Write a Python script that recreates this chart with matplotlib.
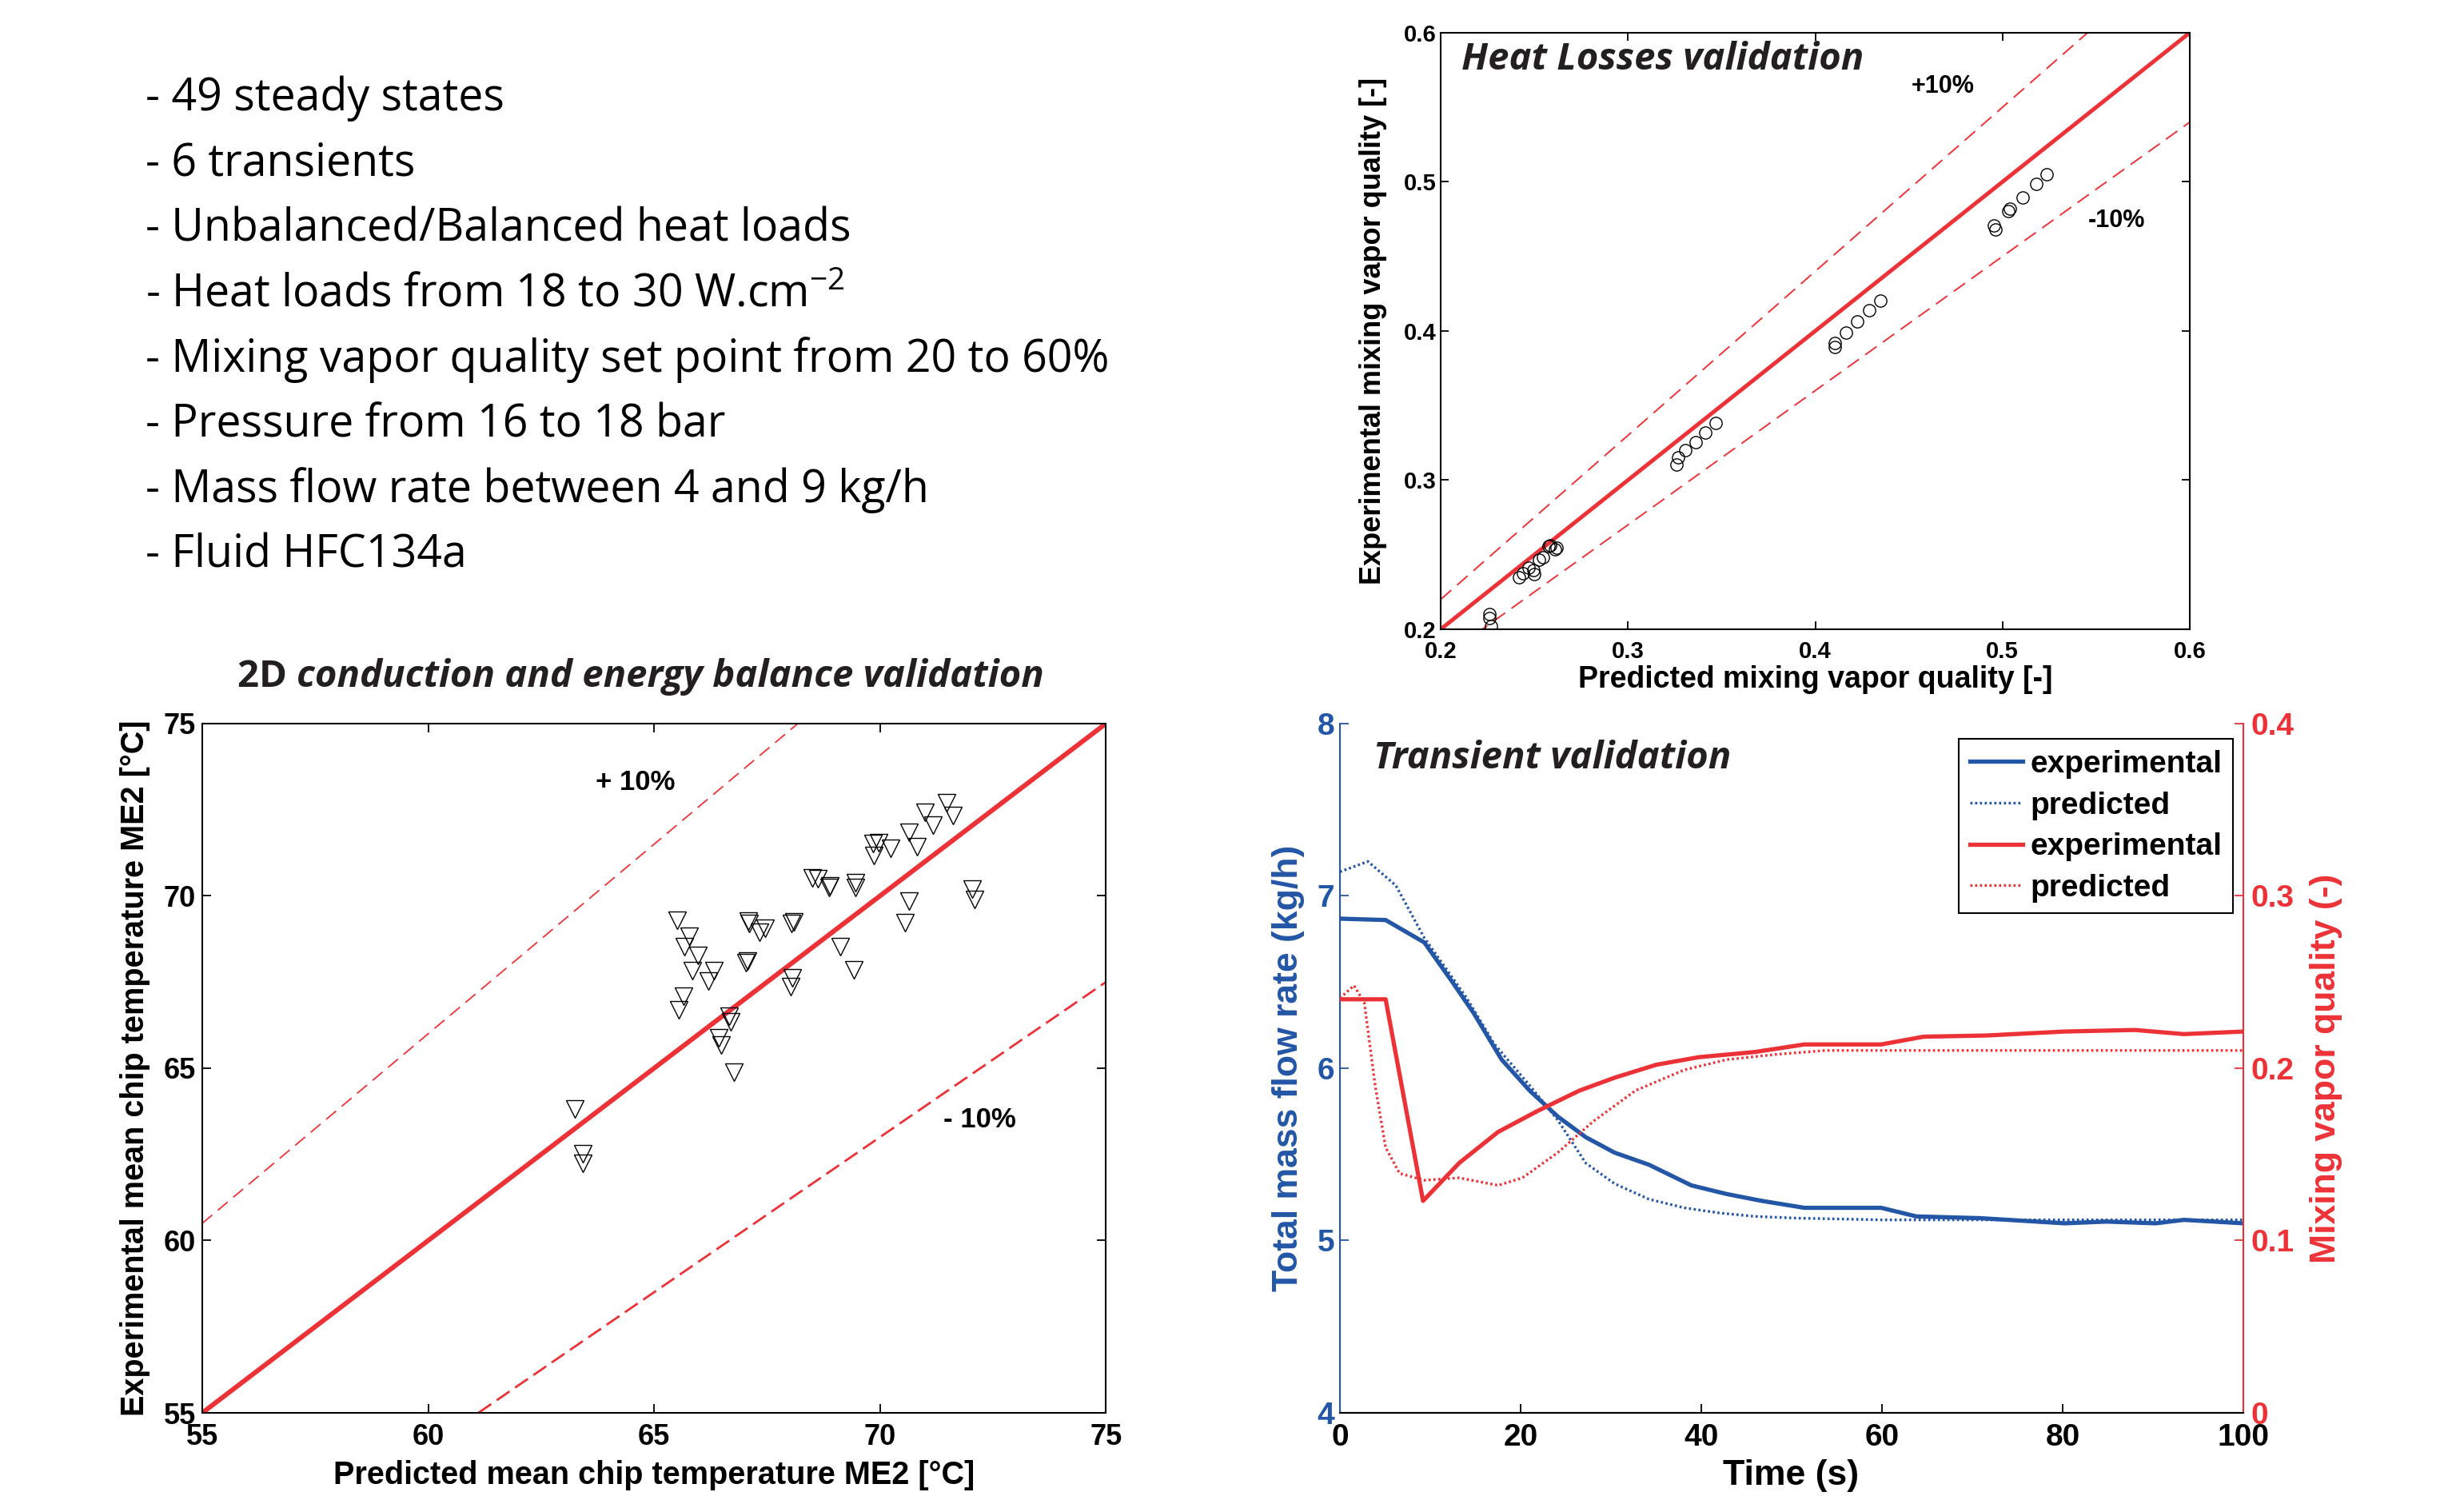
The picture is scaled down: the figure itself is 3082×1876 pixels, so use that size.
import numpy as np
import matplotlib
matplotlib.use('Agg')
import matplotlib.pyplot as plt
from matplotlib.offsetbox import TextArea, HPacker, AnchoredOffsetbox

plt.rcParams['font.family'] = ['Liberation Sans', 'DejaVu Sans']
plt.rcParams['font.weight'] = 'bold'
plt.rcParams['axes.labelweight'] = 'bold'
plt.rcParams['mathtext.fontset'] = 'custom'
plt.rcParams['mathtext.rm'] = 'Open Sans:weight=normal'
plt.rcParams['mathtext.it'] = 'Open Sans:italic:weight=normal'
plt.rcParams['mathtext.bf'] = 'Open Sans:bold'

RED = '#ec3237'
BLUE = '#2356a6'

# text block
bullets = [
    '- 49 steady states',
    '- 6 transients',
    '- Unbalanced/Balanced heat loads',
    '- Heat loads from 18 to 30 W.cm$^{-2}$',
    '- Mixing vapor quality set point from 20 to 60%',
    '- Pressure from 16 to 18 bar',
    '- Mass flow rate between 4 and 9 kg/h',
    '- Fluid HFC134a',
]

# heat losses validation (predicted vs experimental vapor quality)
hl_pred = [0.226, 0.226, 0.227, 0.242, 0.244, 0.247, 0.250, 0.2497, 0.2525, 0.2547, 0.2575, 0.2586, 0.261, 0.262,
           0.3258, 0.3266, 0.3308, 0.3362, 0.3413, 0.3467,
           0.4105, 0.4105, 0.4165, 0.4225, 0.429, 0.435,
           0.4955, 0.4964, 0.5033, 0.504, 0.5108, 0.518, 0.5234]
hl_exp = [0.210, 0.2073, 0.202, 0.235, 0.2377, 0.2413, 0.2368, 0.2395, 0.2467, 0.2484, 0.2556, 0.2564, 0.2538, 0.2548,
          0.3107, 0.3152, 0.3203, 0.3257, 0.3317, 0.3383,
          0.389, 0.392, 0.3988, 0.4063, 0.4138, 0.4205,
          0.4707, 0.468, 0.4806, 0.482, 0.4896, 0.4986, 0.5053]
hl_ticks = [0.2, 0.3, 0.4, 0.5, 0.6]

# 2D conduction validation (mean chip temperature ME2)
me2_pred = [63.24, 63.43, 63.43, 65.51, 65.78, 65.67, 65.98, 65.84, 66.33, 66.21, 65.65, 65.55,
            66.67, 66.70, 66.43, 66.48, 66.77, 67.08, 67.11, 67.33, 67.46, 67.03, 67.06,
            68.04, 68.10, 68.06, 68.02, 68.51, 68.62, 68.87, 69.45, 69.46, 69.12, 69.43,
            69.85, 69.97, 69.86, 70.23, 70.65, 70.82, 70.99, 71.17, 71.48, 71.61,
            70.65, 70.55, 72.04, 72.10, 68.90]
me2_exp = [63.82, 62.52, 62.25, 69.29, 68.82, 68.53, 68.26, 67.82, 67.82, 67.53, 67.09, 66.70,
           66.50, 66.35, 65.88, 65.67, 64.88, 69.26, 69.20, 68.94, 69.07, 68.07, 68.12,
           69.21, 69.25, 67.62, 67.37, 70.52, 70.50, 70.25, 70.38, 70.25, 68.53, 67.86,
           71.51, 71.55, 71.18, 71.39, 71.84, 71.43, 72.42, 72.05, 72.71, 72.34,
           69.85, 69.23, 70.19, 69.90, 70.30]
me2_ticks = [55, 60, 65, 70, 75]

# transient validation
t_flow_exp = [0, 5.06, 9.34, 12.45, 14.8, 17.9, 21.0, 24.1, 27.2, 30.4, 34.2, 38.9, 42.8, 46.7,
              51.4, 59.9, 63.8, 70.8, 80.2, 84.8, 90.3, 93.4, 100]
flow_exp = [6.868, 6.86, 6.73, 6.50, 6.32, 6.05, 5.87, 5.72, 5.60, 5.51, 5.44, 5.32, 5.27, 5.23,
            5.19, 5.19, 5.14, 5.13, 5.10, 5.11, 5.10, 5.12, 5.10]
t_flow_pred = [0, 3.1, 6.2, 9.3, 14.0, 17.1, 21.0, 24.1, 27.2, 30.4, 34.2, 38.1, 42.0, 45.9, 50.6, 60, 80, 100]
flow_pred = [7.14, 7.20, 7.06, 6.76, 6.41, 6.14, 5.90, 5.70, 5.45, 5.33, 5.24, 5.19, 5.16, 5.14, 5.13, 5.12,
             5.12, 5.12]
t_x_exp = [0, 5.06, 9.2, 13.2, 17.5, 21.8, 26.5, 30.4, 35.0, 39.7, 45.9, 51.4, 59.9, 64.6, 71.6, 80.2,
           88.0, 93.4, 100]
x_exp = [0.24, 0.24, 0.123, 0.145, 0.163, 0.175, 0.187, 0.1945, 0.202, 0.2064, 0.2094, 0.2138, 0.2138,
         0.2183, 0.219, 0.2213, 0.2222, 0.2198, 0.2213]
t_x_pred = [0, 1.56, 2.7, 3.9, 5.06, 6.6, 9.3, 13.2, 17.5, 20.2, 24.1, 28.0, 32.7, 38.1, 42.8, 48.2,
            53.7, 70, 100]
x_pred = [0.2407, 0.248, 0.238, 0.190, 0.154, 0.139, 0.135, 0.1364, 0.132, 0.1364, 0.151, 0.169, 0.187,
          0.199, 0.205, 0.208, 0.2103, 0.2103, 0.2103]
time_ticks = [0, 20, 40, 60, 80, 100]
flow_ticks = [4, 5, 6, 7, 8]
x_ticks = [0, 0.1, 0.2, 0.3, 0.4]
x_ticklabels = ['0', '0.1', '0.2', '0.3', '0.4']


def matlab_box(ax, size, length=8, pad=6):
    ax.tick_params(direction='in', length=length, width=1.3, top=True, right=True,
                   labelsize=size, pad=pad)
    for s in ax.spines.values():
        s.set_linewidth(1.5)


fig = plt.figure(figsize=(30.82, 18.76), dpi=100)

# bullet list
for i, line in enumerate(bullets):
    fig.text(0.0589, 0.9264 - i * 0.04355, line, fontfamily='Open Sans', fontweight='normal',
             fontsize=40, va='baseline')

title_kw = dict(fontfamily='Open Sans', fontweight='bold', fontsize=34, color='#231f20')

# top right: heat losses
ax1 = fig.add_axes([0.5847, 0.5805, 0.3040, 0.3977])
ax1.plot(hl_pred, hl_exp, 'o', mfc='none', mec='black', ms=11, mew=1.0, zorder=3)
xx = np.array([0.2, 0.6])
ax1.plot(xx, xx, color=RED, lw=3.6, zorder=2)
ax1.plot(xx, 1.1 * xx, color=RED, lw=1.4, dashes=(9, 5))
ax1.plot(xx, 0.9 * xx, color=RED, lw=1.4, dashes=(9, 5))
ax1.set_xlim(0.2, 0.6)
ax1.set_ylim(0.2, 0.6)
ax1.set_xticks(hl_ticks)
ax1.set_yticks(hl_ticks)
matlab_box(ax1, 21, length=7, pad=4)
ax1.tick_params(axis='x', pad=10)
ax1.set_xlabel('Predicted mixing vapor quality [-]', fontsize=27, va='center')
ax1.xaxis.set_label_coords(0.5, -0.0845)
ax1.set_ylabel('Experimental mixing vapor quality [-]', fontsize=26, va='center')
ax1.yaxis.set_label_coords(-0.090, 0.5)
ax1.text(0.4515, 0.564, '+10%', fontsize=22, va='center')
ax1.text(0.5458, 0.4737, '-10%', fontsize=22, va='center')
ax1.text(0.028, 0.955, 'Heat Losses validation', transform=ax1.transAxes, va='center',
         style='italic', **title_kw)

# bottom left: 2D conduction
ax2 = fig.add_axes([0.0821, 0.0581, 0.3667, 0.4595])
ax2.plot(me2_pred, me2_exp, 'v', mfc='none', mec='black', ms=16, mew=1.0, zorder=3)
tt = np.array([55.0, 75.0])
ax2.plot(tt, tt, color=RED, lw=4.3, zorder=2)
ax2.plot(tt, 1.1 * tt, color=RED, lw=1.3, dashes=(9, 5))
ax2.plot(tt, 0.9 * tt, color=RED, lw=2.0, dashes=(7, 3))
ax2.set_xlim(55, 75)
ax2.set_ylim(55, 75)
ax2.set_xticks(me2_ticks)
ax2.set_yticks(me2_ticks)
matlab_box(ax2, 26, length=8, pad=6)
ax2.tick_params(axis='x', pad=9)
ax2.set_xlabel('Predicted mean chip temperature ME2 [°C]', fontsize=28.5, va='center')
ax2.xaxis.set_label_coords(0.5, -0.0905)
ax2.set_ylabel('Experimental mean chip temperature ME2 [°C]', fontsize=28.5, va='center')
ax2.yaxis.set_label_coords(-0.0743, 0.5)
ax2.text(63.7, 73.3, '+ 10%', fontsize=25, va='center')
ax2.text(71.4, 63.5, '- 10%', fontsize=25, va='center')
box = HPacker(children=[TextArea('2D ', textprops=dict(style='normal', **title_kw)),
                        TextArea('conduction and energy balance validation',
                                 textprops=dict(style='italic', **title_kw))],
              pad=0, sep=0, align='baseline')
ab = AnchoredOffsetbox(loc='center', child=box, bbox_to_anchor=(0.485, 1.0684),
                       bbox_transform=ax2.transAxes, frameon=False, pad=0, borderpad=0)
ax2.add_artist(ab)

# bottom right: transient
ax3 = fig.add_axes([0.5438, 0.0581, 0.3667, 0.4595])
ax4 = ax3.twinx()
l1, = ax3.plot(t_flow_exp, flow_exp, color=BLUE, lw=3.8, label='experimental')
l2, = ax3.plot(t_flow_pred, flow_pred, color=BLUE, lw=2.4, ls=(0, (0.8, 1.0)), label='predicted')
l3, = ax4.plot(t_x_exp, x_exp, color=RED, lw=3.8, label='experimental')
l4, = ax4.plot(t_x_pred, x_pred, color=RED, lw=2.4, ls=(0, (0.8, 1.0)), label='predicted')
ax3.set_xlim(0, 100)
ax3.set_ylim(4, 8)
ax4.set_ylim(0, 0.4)
ax3.set_xticks(time_ticks)
ax3.set_yticks(flow_ticks)
ax4.set_yticks(x_ticks)
ax4.set_yticklabels(x_ticklabels)
for a in (ax3, ax4):
    for s in a.spines.values():
        s.set_linewidth(1.5)
    a.spines['top'].set_visible(False)
ax3.spines['right'].set_visible(False)
ax4.spines['left'].set_visible(False)
ax3.spines['left'].set_color(BLUE)
ax4.spines['right'].set_color(RED)
ax3.tick_params(axis='x', direction='in', length=8, width=1.3, labelsize=28, pad=9)
ax3.tick_params(axis='y', direction='in', length=8, width=1.3, labelsize=28, pad=5,
                colors=BLUE, right=False)
ax4.tick_params(axis='y', direction='in', length=8, width=1.3, labelsize=28, pad=7, colors=RED)
ax3.set_xlabel('Time (s)', fontsize=32, va='center')
ax3.xaxis.set_label_coords(0.499, -0.0905)
ax3.set_ylabel('Total mass flow rate (kg/h)', fontsize=32, color=BLUE, va='center')
ax3.yaxis.set_label_coords(-0.0575, 0.5)
ax4.set_ylabel('Mixing vapor quality (-)', fontsize=32, color=RED, va='center', rotation=90)
ax4.yaxis.set_label_coords(1.091, 0.5)
ax3.text(0.037, 0.95, 'Transient validation', transform=ax3.transAxes, va='center',
         style='italic', **title_kw)
leg = ax4.legend(handles=[l1, l2, l3, l4], loc='upper right', bbox_to_anchor=(0.9885, 0.9774),
                 borderaxespad=0, fontsize=28, fancybox=False, framealpha=1, edgecolor='black',
                 handlelength=1.7, handletextpad=0.25, labelspacing=0.4, borderpad=0.35)
leg.get_frame().set_linewidth(1.5)

fig.savefig('out.png', dpi=100, facecolor='white')
